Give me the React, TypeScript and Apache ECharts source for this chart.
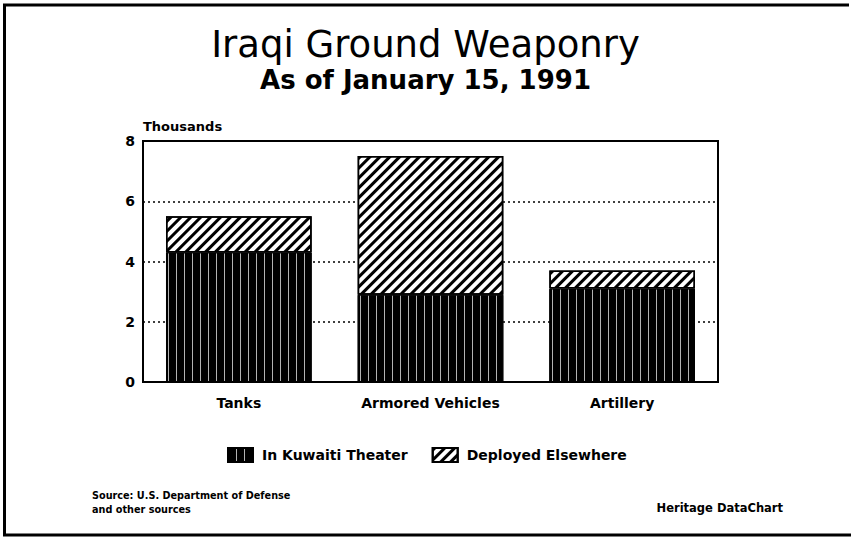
import React, { useEffect, useRef } from "react";
import * as echarts from "echarts";

const categories = ["Tanks", "Armored Vehicles", "Artillery"];
const kuwaitiTheater = [4.3, 2.9, 3.1];
const deployedElsewhere = [1.2, 4.6, 0.6];
const seriesNames = ["In Kuwaiti Theater", "Deployed Elsewhere"];
const yTicks = { min: 0, max: 8, interval: 2 };

const FONT = "'DejaVu Sans', 'Liberation Sans', Arial, sans-serif";

export default function App() {
  const ref = useRef<HTMLDivElement>(null);
  useEffect(() => {
    document.body.style.margin = "0";
    const chart = echarts.init(ref.current!, null, { renderer: "svg" });
    chart.setOption({
      animation: false,
      backgroundColor: "#fff",
      textStyle: { fontFamily: FONT, color: "#000" },
      title: [
        {
          text: "Iraqi Ground Weaponry",
          left: "center",
          top: 21,
          textStyle: { fontFamily: FONT, fontSize: 37, fontWeight: "normal", color: "#000" },
        },
        {
          text: "As of January 15, 1991",
          left: "center",
          top: 62,
          textStyle: { fontFamily: FONT, fontSize: 26, fontWeight: "bold", color: "#000" },
        },
      ],
      grid: {
        left: 143,
        right: 133,
        top: 141,
        bottom: 156,
        show: true,
        borderColor: "#000",
        borderWidth: 2,
        backgroundColor: "transparent",
      },
      legend: {
        left: 222,
        top: 442,
        itemWidth: 25,
        itemHeight: 14,
        itemGap: 24,
        icon: "rect",
        textStyle: {
          fontFamily: FONT,
          fontSize: 14,
          fontWeight: "bold",
          color: "#000",
          padding: [0, 0, 0, 4],
        },
        data: seriesNames,
      },
      xAxis: {
        type: "category",
        data: categories,
        axisLine: { show: true, lineStyle: { color: "#000", width: 2 } },
        axisTick: { show: false },
        axisLabel: { margin: 14, fontFamily: FONT, fontSize: 14, fontWeight: "bold", color: "#000" },
      },
      yAxis: {
        type: "value",
        min: yTicks.min,
        max: yTicks.max,
        interval: yTicks.interval,
        name: "Thousands",
        nameLocation: "end",
        nameGap: 8,
        nameTextStyle: {
          fontFamily: FONT,
          fontSize: 13,
          fontWeight: "bold",
          color: "#000",
          align: "left",
        },
        axisLine: { show: true, lineStyle: { color: "#000", width: 2 } },
        axisTick: { show: false },
        axisLabel: { margin: 8, fontFamily: FONT, fontSize: 14, fontWeight: "bold", color: "#000" },
        splitLine: { show: true, lineStyle: { color: "#000", width: 1.5, type: [2, 3] } },
      },
      series: [
        {
          name: seriesNames[0],
          type: "bar",
          stack: "total",
          barWidth: "76%",
          data: kuwaitiTheater,
          itemStyle: {
            color: "#000",
            borderColor: "#000",
            borderWidth: 1,
            decal: {
              symbol: "rect",
              symbolSize: 1,
              color: "rgba(255,255,255,0.7)",
              dashArrayX: [1, 7],
              dashArrayY: [1, 0],
              rotation: 0,
            },
          },
        },
        {
          name: seriesNames[1],
          type: "bar",
          stack: "total",
          barWidth: "76%",
          data: deployedElsewhere,
          itemStyle: {
            color: "#fff",
            borderColor: "#000",
            borderWidth: 1.5,
            decal: {
              symbol: "rect",
              symbolSize: 1,
              color: "#000",
              dashArrayX: [1, 0],
              dashArrayY: [2.5, 3.5],
              rotation: -Math.PI / 4,
            },
          },
        },
      ],
      graphic: [
        {
          type: "line",
          shape: { x1: 3, y1: 5, x2: 849, y2: 5 },
          style: { stroke: "#000", lineWidth: 3 },
          silent: true,
        },
        {
          type: "line",
          shape: { x1: 4.5, y1: 4, x2: 4.5, y2: 536 },
          style: { stroke: "#000", lineWidth: 3 },
          silent: true,
        },
        {
          type: "line",
          shape: { x1: 3, y1: 535, x2: 851, y2: 535 },
          style: { stroke: "#000", lineWidth: 3 },
          silent: true,
        },
        {
          type: "text",
          left: 92,
          top: 488,
          style: {
            text: "Source: U.S. Department of Defense\nand other sources",
            font: `bold 9.7px ${FONT}`,
            fill: "#000",
            lineHeight: 14,
          },
        },
        {
          type: "text",
          right: 68,
          top: 502,
          style: {
            text: "Heritage DataChart",
            font: `bold 11.5px ${FONT}`,
            fill: "#000",
          },
        },
      ],
    });
    return () => chart.dispose();
  }, []);
  return <div ref={ref} style={{ width: 851, height: 538 }} />;
}
